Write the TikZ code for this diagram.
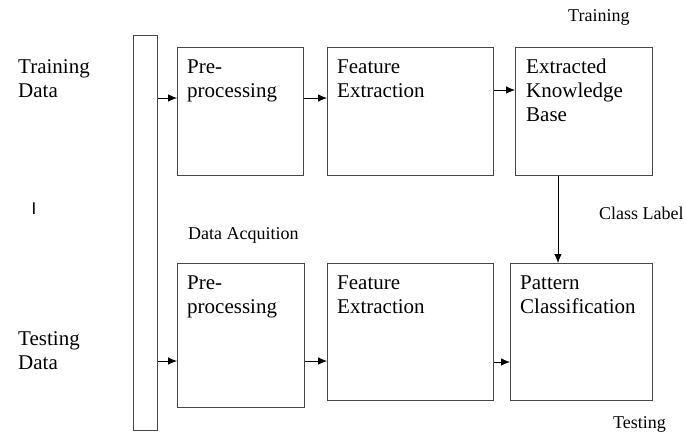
\documentclass[tikz,border=0pt]{standalone}
\usepackage{fontspec}
\setmainfont{Liberation Serif}
\newfontfamily\barfont{Liberation Sans}
\usetikzlibrary{arrows.meta}
\begin{document}
\begin{tikzpicture}[x=1pt,y=-1pt,
  box/.style={draw=black!72, line width=0.9pt, inner sep=0pt, anchor=north west},
  big/.style={inner sep=0pt, anchor=base west, align=left, font=\fontsize{21}{24}\selectfont},
  small/.style={inner sep=0pt, anchor=base west, font=\fontsize{18}{21}\selectfont},
  arr/.style={draw=black, line width=0.8pt, -{Latex[length=9pt,width=7.5pt]}}]
\useasboundingbox (0,0) rectangle (686,432);
% input bar
\node[box, minimum width=24pt, minimum height=395pt] (bar) at (133,35) {};
% top row
\node[box, minimum width=126pt, minimum height=128pt] (pre1) at (177,47) {};
\node[box, minimum width=166pt, minimum height=128pt] (fe1) at (327,47) {};
\node[box, minimum width=137pt, minimum height=128pt] (kb) at (515,47) {};
% bottom row
\node[box, minimum width=127pt, minimum height=144pt] (pre2) at (177,263) {};
\node[box, minimum width=166pt, minimum height=137pt] (fe2) at (327,263) {};
\node[box, minimum width=142pt, minimum height=137pt] (pc) at (510,263) {};
% box texts (anchored at baseline of last line)
\node[big] (tpre1) at (187,97) {Pre-\\processing};
\node[big] (tfe1) at (337,97) {Feature\\Extraction};
\node[big] (tkb) at (526,121) {Extracted\\Knowledge\\Base};
\node[big] (tpre2) at (187,313) {Pre-\\processing};
\node[big] (tfe2) at (337,313) {Feature\\Extraction};
\node[big] (tpc) at (520,313) {Pattern\\Classification};
% side labels
\node[big] (ltrain) at (18,97) {Training\\Data};
\node[big] (ltest) at (18,369) {Testing\\Data};
\node[inner sep=0pt, font=\barfont\fontsize{17}{20}\selectfont] (lI) at (34,209) {I};
% small labels
\node[small] (training) at (568,21) {Training};
\node[small] (classlbl) at (599,219) {Class Label};
\node[small] (dataacq) at (188,239) {Data Acquition};
\node[small] (testing) at (613,428) {Testing};
% arrows
\draw[arr] (bar.east |- 0,98) -- (pre1.west |- 0,98);
\draw[arr] (pre1.east |- 0,98) -- (fe1.west |- 0,98);
\draw[arr] (fe1.east |- 0,90) -- (kb.west |- 0,90);
\draw[arr] (bar.east |- 0,361) -- (pre2.west |- 0,361);
\draw[arr] (pre2.east |- 0,361) -- (fe2.west |- 0,361);
\draw[arr] (fe2.east |- 0,362) -- (pc.west |- 0,362);
\draw[arr] (kb.south -| 558,0) -- (pc.north -| 558,0);
\end{tikzpicture}
\end{document}
